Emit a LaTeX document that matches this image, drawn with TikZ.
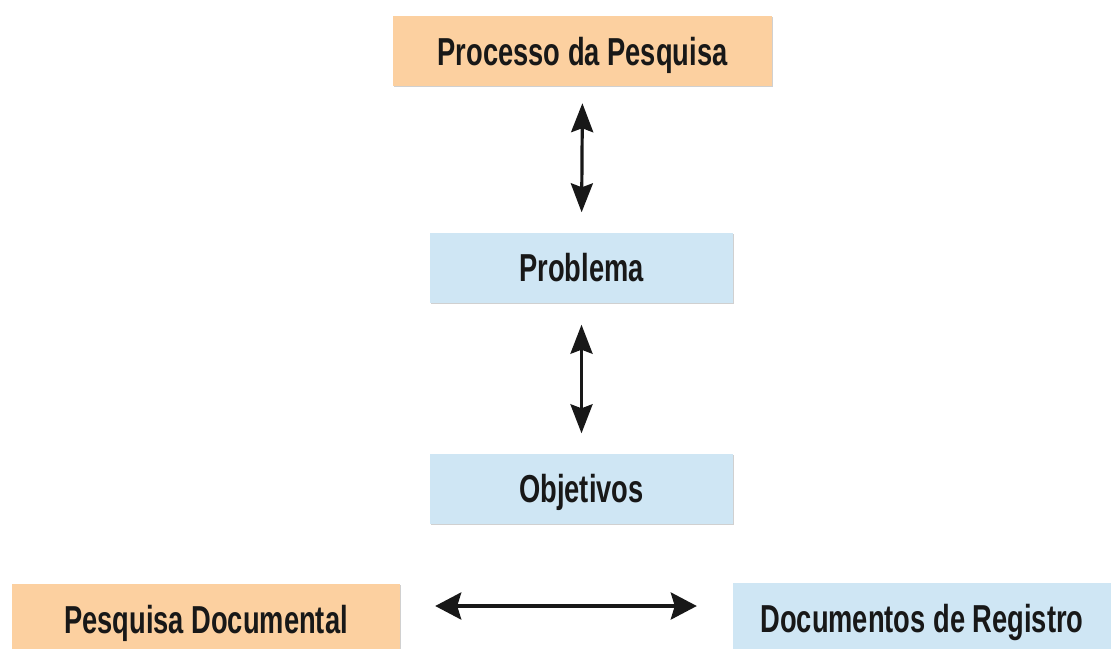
\documentclass[tikz,border=0pt]{standalone}
\usepackage{fontspec}
\setmainfont[FakeStretch=0.70]{Liberation Sans}
\usetikzlibrary{arrows.meta,shadows,calc}
\definecolor{peach}{RGB}{252,208,160}
\definecolor{lblue}{RGB}{207,230,244}
\definecolor{ink}{RGB}{24,24,24}
\begin{document}
\begin{tikzpicture}[x=1pt,y=-1pt,
  box/.style={minimum height=70pt, inner sep=0pt, text height=28pt, text depth=0pt,
    font=\fontsize{39}{40}\selectfont\bfseries, text=ink,
    drop shadow={shadow xshift=1pt,shadow yshift=-1pt,opacity=0.3,fill=black!60}},
  orangebox/.style={box, fill=peach},
  bluebox/.style={box, fill=lblue},
  dbl/.style={line width=3.2pt, draw=ink, {Stealth[length=29pt,width=22pt,inset=4pt]}-{Stealth[length=29pt,width=22pt,inset=4pt]}},
  dblh/.style={line width=3.6pt, draw=ink, {Stealth[length=26pt,width=27pt,inset=4pt]}-{Stealth[length=26pt,width=27pt,inset=4pt]}}]
\useasboundingbox (0,0) rectangle (1111,648);
\clip (0,0) rectangle (1111,648);
\fill[white] (0,0) rectangle (1111,648);
\node[orangebox, minimum width=379pt] (proc) at (582.5,51) {Processo da Pesquisa};
\node[bluebox, minimum width=303pt] (prob) at (581.5,267.5) {Problema};
\node[bluebox, minimum width=303pt] (obj) at (581.5,488.5) {Objetivos};
\node[orangebox, minimum width=388pt] (pesq) at (206,619) {Pesquisa Documental};
\node[bluebox, minimum width=378pt] (doc) at (922,618) {Documentos de Registro};
\draw[dbl, shorten <=17pt, shorten >=20pt] (proc.south) -- (prob.north);
\draw[dbl, shorten <=22pt, shorten >=20pt] (prob.south) -- (obj.north);
\draw[dblh, shorten <=35pt, shorten >=36pt] ($(pesq.east)+(0,-13)$) -- ($(doc.west |- pesq.east)+(0,-13)$);
\end{tikzpicture}
\end{document}
